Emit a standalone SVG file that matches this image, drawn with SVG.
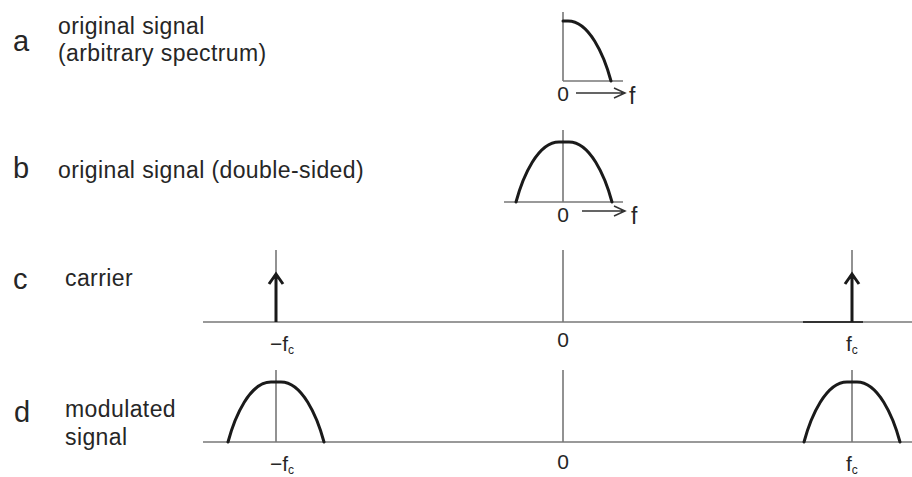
<svg xmlns="http://www.w3.org/2000/svg" width="912" height="477" viewBox="0 0 912 477">
<style>
text{font-family:"Liberation Sans",Arial,sans-serif;fill:#262626}
.lbl{font-size:29px}
.t{font-size:23px;letter-spacing:0.4px}
.ax{font-size:21px}
.sub{font-size:12px}
.axis{stroke:#777;stroke-width:1.6;fill:none}
.curve{stroke:#1a1a1a;stroke-width:3;fill:none;stroke-linecap:round}
.spike{stroke:#1a1a1a;stroke-width:3;fill:none}
.arr{stroke:#333;stroke-width:1.5;fill:none}
</style>
<defs>
<path id="bump" d="M -48 60 C -41 34 -26 0 -5 0 L 5 0 C 26 0 41 34 48 60"/>
</defs>
<g id="labels">
<text class="lbl" x="13" y="51">a</text>
<text class="t" x="58" y="34">original signal</text>
<text class="t" x="58" y="61">(arbitrary spectrum)</text>
<text class="lbl" x="13" y="178">b</text>
<text class="t" x="58" y="178">original signal (double-sided)</text>
<text class="lbl" x="13" y="289">c</text>
<text class="t" x="65" y="286">carrier</text>
<text class="lbl" x="14" y="422">d</text>
<text class="t" x="65" y="417">modulated</text>
<text class="t" x="65" y="445">signal</text>
</g>
<g id="panel-a">
<line class="axis" x1="563" y1="12" x2="563" y2="81"/>
<line class="axis" x1="563" y1="81" x2="623" y2="81"/>
<path class="curve" d="M 563 21 L 568 21 C 589 21 604 55 611 81"/>
<text class="ax" x="563" y="101" text-anchor="middle">0</text>
<path class="arr" d="M 576 93 H 625 M 614 88 L 625 93 L 614 98"/>
<text class="t" x="629" y="104">f</text>
</g>
<g id="panel-b">
<line class="axis" x1="563" y1="130" x2="563" y2="202"/>
<line class="axis" x1="504" y1="202" x2="623" y2="202"/>
<use href="#bump" class="curve" transform="translate(564,142)"/>
<text class="ax" x="563" y="222" text-anchor="middle">0</text>
<path class="arr" d="M 582 211 H 625 M 614 206 L 625 211 L 614 216"/>
<text class="t" x="631" y="224">f</text>
</g>
<g id="panel-c">
<line class="axis" x1="203" y1="322" x2="912" y2="322"/>
<line x1="803" y1="322" x2="863" y2="322" stroke="#333" stroke-width="1.8"/>
<line class="axis" x1="276" y1="250" x2="276" y2="322"/>
<line class="axis" x1="563" y1="250" x2="563" y2="322"/>
<line class="axis" x1="852" y1="250" x2="852" y2="322"/>
<path class="spike" d="M 276 322 V 275 M 269 284 L 276 274 L 283 284"/>
<path class="spike" d="M 852 322 V 275 M 845 284 L 852 274 L 859 284"/>
<text class="ax" x="270" y="351">−f<tspan class="sub" dy="3">c</tspan></text>
<text class="ax" x="563" y="347" text-anchor="middle">0</text>
<text class="ax" x="846" y="351">f<tspan class="sub" dy="3">c</tspan></text>
</g>
<g id="panel-d">
<line class="axis" x1="203" y1="442" x2="912" y2="442"/>
<line class="axis" x1="276" y1="370" x2="276" y2="442"/>
<line class="axis" x1="563" y1="370" x2="563" y2="442"/>
<line class="axis" x1="852" y1="370" x2="852" y2="442"/>
<use href="#bump" class="curve" transform="translate(276,382)"/>
<use href="#bump" class="curve" transform="translate(852,382)"/>
<text class="ax" x="270" y="471">−f<tspan class="sub" dy="3">c</tspan></text>
<text class="ax" x="563" y="469" text-anchor="middle">0</text>
<text class="ax" x="846" y="471">f<tspan class="sub" dy="3">c</tspan></text>
</g>
</svg>
